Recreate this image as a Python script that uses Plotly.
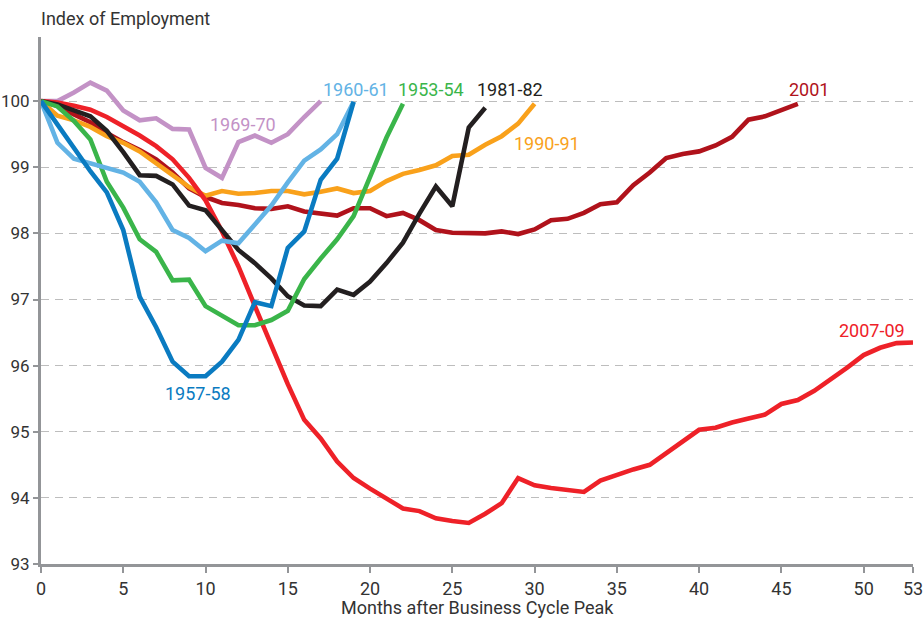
import plotly.graph_objects as go

# ---- data (index of employment, months after business-cycle peak) ----
s1953_54 = [100, 99.92, 99.7, 99.42, 98.78, 98.39, 97.91, 97.72, 97.29, 97.3, 96.9, 96.76,
            96.61, 96.61, 96.69, 96.83, 97.31, 97.62, 97.91, 98.26, 98.87, 99.45, 99.96]
s1957_58 = [100, 99.64, 99.28, 98.94, 98.62, 98.05, 97.04, 96.58, 96.06, 95.84, 95.84, 96.06,
            96.39, 96.96, 96.9, 97.78, 98.03, 98.81, 99.13, 99.99]
s1960_61 = [100, 99.37, 99.13, 99.06, 99.0, 98.92, 98.78, 98.47, 98.05, 97.93, 97.73, 97.89,
            97.85, 98.13, 98.42, 98.77, 99.1, 99.27, 99.5, 99.99]
s1969_70 = [100, 100.0, 100.13, 100.28, 100.16, 99.86, 99.71, 99.74, 99.58, 99.57, 98.99, 98.84,
            99.38, 99.48, 99.37, 99.5, 99.76, 100.0]
s1981_82 = [100, 99.95, 99.86, 99.77, 99.55, 99.23, 98.88, 98.87, 98.74, 98.42, 98.35, 98.06,
            97.75, 97.55, 97.32, 97.05, 96.91, 96.9, 97.15, 97.07, 97.27, 97.55, 97.86, 98.3,
            98.71, 98.41, 99.6, 99.9]
s1990_91 = [100, 99.78, 99.71, 99.61, 99.47, 99.37, 99.24, 99.05, 98.88, 98.7, 98.57, 98.64,
            98.6, 98.61, 98.64, 98.64, 98.59, 98.63, 98.68, 98.61, 98.64, 98.79, 98.9, 98.96,
            99.03, 99.17, 99.19, 99.34, 99.47, 99.66, 99.96]
s2001 = [100, 99.93, 99.8, 99.68, 99.52, 99.38, 99.26, 99.12, 98.92, 98.68, 98.55, 98.46,
         98.43, 98.38, 98.37, 98.41, 98.33, 98.3, 98.27, 98.38, 98.38, 98.26, 98.31, 98.2,
         98.05, 98.01, 98.0, 98.0, 98.03, 97.99, 98.06, 98.2, 98.22, 98.31, 98.44, 98.47,
         98.73, 98.92, 99.14, 99.2, 99.24, 99.33, 99.46, 99.72, 99.77, 99.87, 99.96]
s2007_09 = [100, 99.98, 99.93, 99.87, 99.76, 99.62, 99.48, 99.32, 99.12, 98.84, 98.5, 98.03,
            97.5, 96.9, 96.3, 95.72, 95.18, 94.9, 94.55, 94.3, 94.14, 93.98, 93.84, 93.8,
            93.69, 93.65, 93.62, 93.76, 93.92, 94.3, 94.19, 94.15, 94.12, 94.09, 94.26, 94.35,
            94.43, 94.5, 94.67, 94.85, 95.03, 95.06, 95.14, 95.2, 95.26, 95.42, 95.48, 95.62,
            95.79, 95.97, 96.16, 96.27, 96.34, 96.35]

series_names = ["1969-70", "2001", "1990-91", "2007-09", "1981-82", "1953-54", "1960-61", "1957-58"]
series_vals = [s1969_70, s2001, s1990_91, s2007_09, s1981_82, s1953_54, s1960_61, s1957_58]
series_colors = ["#C392C6", "#B0121B", "#F9A11B", "#EE2128", "#231F20", "#3AB54A", "#63B3E5", "#0A7BC1"]

# label positions (month, index)
label_pos = {
    "1969-70": (12.3, 99.65),
    "1960-61": (19.15, 100.17),
    "1953-54": (23.7, 100.17),
    "1981-82": (28.5, 100.17),
    "1990-91": (30.75, 99.36),
    "2001": (46.7, 100.17),
    "2007-09": (50.5, 96.53),
    "1957-58": (9.55, 95.58),
}

x_ticks = [0, 5, 10, 15, 20, 25, 30, 35, 40, 45, 50, 53]
y_ticks = [93, 94, 95, 96, 97, 98, 99, 100]

FONT = "Roboto, Liberation Sans, sans-serif"
AXIS_GREY = "#939598"
TEXT = "#333333"

fig = go.Figure()
for name, vals, col in zip(series_names, series_vals, series_colors):
    fig.add_trace(go.Scatter(
        x=list(range(len(vals))), y=vals, mode="lines", name=name,
        line=dict(color=col, width=4.6), hoverinfo="skip", showlegend=False,
    ))

for name, col in zip(series_names, series_colors):
    lx, ly = label_pos[name]
    fig.add_annotation(x=lx, y=ly, xref="x", yref="y", text=name, showarrow=False,
                       font=dict(family=FONT, size=18, color=col),
                       xanchor="center", yanchor="middle")

# axis titles as annotations for exact placement
fig.add_annotation(x=0, y=1, xref="paper", yref="paper", text="Index of Employment",
                   showarrow=False, xanchor="left", yanchor="middle", yshift=19, xshift=-2,
                   font=dict(family=FONT, size=18, color=TEXT))
fig.add_annotation(x=0.5, y=0, xref="paper", yref="paper", text="Months after Business Cycle Peak",
                   showarrow=False, xanchor="center", yanchor="middle", yshift=-43,
                   font=dict(family=FONT, size=18, color=TEXT))

fig.update_layout(
    width=924, height=619,
    margin=dict(l=41, r=11, t=37, b=55),
    paper_bgcolor="white", plot_bgcolor="white",
    font=dict(family=FONT, color=TEXT, size=18),
    xaxis=dict(
        range=[0, 53], tickvals=x_ticks, ticktext=[str(v) for v in x_ticks],
        showgrid=False, zeroline=False, automargin=False,
        showline=True, linecolor=AXIS_GREY, linewidth=3,
        ticks="outside", ticklen=6, tickwidth=2, tickcolor=AXIS_GREY,
        ticklabeloverflow="allow",
        tickfont=dict(family=FONT, size=18, color=TEXT),
    ),
    yaxis=dict(
        range=[93, 100.97], tickvals=y_ticks, ticktext=[str(v) for v in y_ticks],
        showgrid=True, gridcolor="#BDBDBD", gridwidth=1.3, griddash="8px,6px",
        zeroline=False, automargin=False,
        showline=True, linecolor=AXIS_GREY, linewidth=3,
        ticks="outside", ticklen=5, tickwidth=2, tickcolor=AXIS_GREY,
        ticklabeloverflow="allow",
        tickfont=dict(family=FONT, size=17, color=TEXT),
    ),
)

fig.write_html("out.html", config={"displayModeBar": False},
               post_script="document.body.style.margin='0';document.body.style.overflow='hidden';")
